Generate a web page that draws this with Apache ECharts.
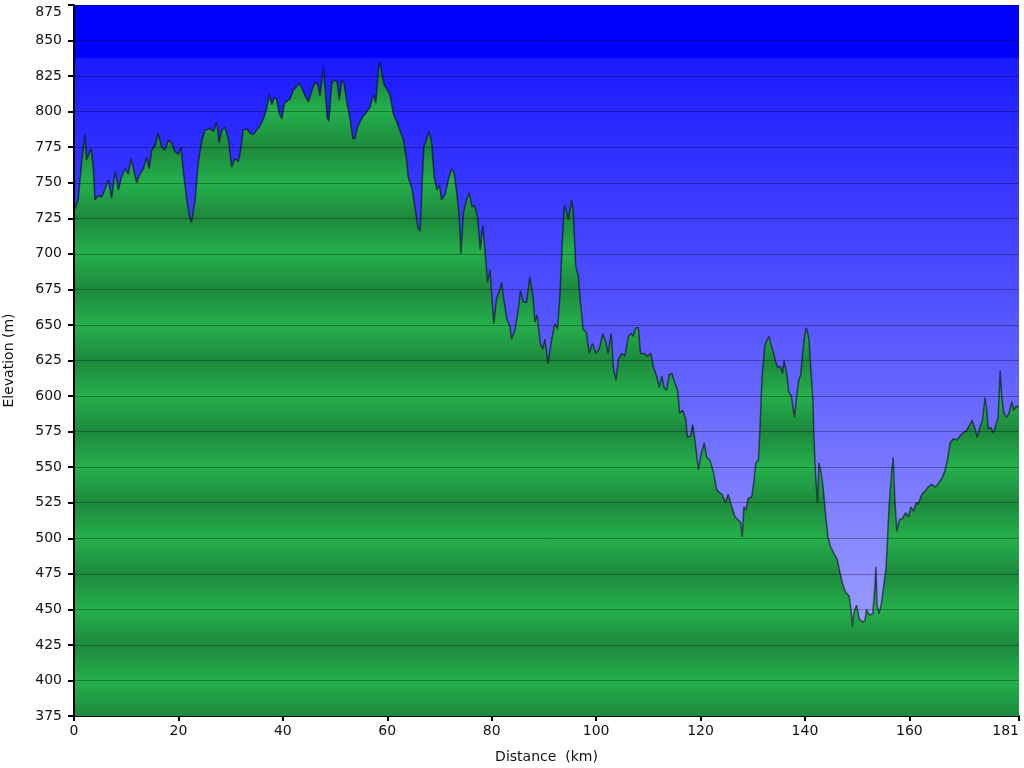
<!DOCTYPE html>
<html>
<head>
<meta charset="utf-8">
<script src="https://cdn.jsdelivr.net/npm/echarts@6/dist/echarts.min.js"></script>
<style>html,body{margin:0;padding:0;background:#fff}#c{width:1024px;height:768px}</style>
</head>
<body>
<div id="c"></div>
<script>
const distanceKm = [0,0.8,1.5,2.1,2.4,2.8,3.3,3.7,4.0,4.7,5.3,5.9,6.6,7.2,7.9,8.5,9.1,9.8,10.4,10.9,11.5,12.0,12.6,13.3,13.9,14.4,14.9,15.5,16.1,16.8,17.4,18.1,18.7,19.3,20.0,20.5,20.9,21.6,22.2,22.5,23.2,23.8,24.5,25.1,26.0,26.8,27.3,27.8,28.3,28.9,29.6,30.2,30.8,31.5,32.0,
32.4,33.1,33.7,34.3,35.0,35.6,36.3,36.9,37.4,37.9,38.4,38.8,39.3,39.8,40.3,40.7,41.4,42.0,42.7,43.2,43.8,44.4,44.9,45.5,46.2,46.7,47.1,47.8,48.1,48.5,48.8,49.4,50.0,50.4,50.8,51.3,51.7,52.2,52.9,53.4,53.8,54.3,54.8,55.4,56.1,56.7,57.3,57.8,58.3,58.6,58.9,59.4,59.9,60.5,61.2,61.8,62.4,63.1,63.7,
64.0,64.7,65.3,65.9,66.3,66.6,67.0,67.5,68.0,68.5,69.0,69.5,70.0,70.4,71.1,71.7,72.3,72.8,73.3,73.8,74.1,74.6,75.2,75.7,76.2,76.7,77.3,77.8,78.3,78.7,79.2,79.7,80.1,80.4,80.9,81.5,81.9,82.4,82.9,83.5,83.8,84.5,85.1,85.5,86.1,86.7,87.3,87.9,88.3,88.7,89.3,89.8,90.2,90.8,91.5,92.1,92.6,93.1,93.5,93.9,94.2,94.7,95.3,95.6,96.1,96.6,97.0,97.5,98.1,98.7,99.3,100.0,
100.6,101.3,101.9,102.3,102.9,103.3,103.8,104.3,104.9,105.5,106.2,106.7,107.1,107.6,108.1,108.5,109.2,109.8,110.5,111.0,111.6,112.1,112.6,113.0,113.5,114.0,114.5,115.1,115.6,116.0,116.6,117.2,117.5,118.1,118.5,118.9,119.6,120.1,120.7,121.2,121.8,122.5,123.1,123.7,124.1,124.4,124.8,125.3,126.0,126.6,127.2,127.7,128.0,128.3,128.7,129.1,129.8,130.2,130.6,131.1,131.4,131.8,132.3,132.7,133.1,133.5,134.0,134.4,134.8,135.3,135.7,136.0,136.5,136.9,137.4,137.7,138.0,138.4,138.8,139.2,139.5,140.0,140.3,140.8,141.1,141.5,141.7,142.0,142.4,142.7,143.1,143.5,144.0,144.4,144.9,145.6,146.2,146.7,147.2,147.8,148.5,148.8,149.1,149.4,149.9,150.4,151.1,151.5,151.8,152.3,153.0,153.4,153.6,153.8,154.2,154.6,155.0,155.5,155.8,156.1,156.6,156.9,157.2,157.6,158.1,158.7,159.3,159.8,160.3,160.8,161.3,161.7,162.4,163.0,163.6,164.3,164.9,165.5,166.2,166.8,167.3,167.8,168.4,169.1,169.7,170.3,171.0,171.6,172.0,172.6,173.0,173.5,174.0,174.5,174.8,175.1,175.6,176.1,176.6,177.0,177.4,177.7,178.1,178.6,179.1,179.6,180.0,180.5,181.0];

const elevationM = [730,738,766,784,766,770,774,761,738,741,740,745,752,739,758,745,754,760,756,767,758,750,756,760,768,760,773,776,785,775,773,780,778,772,770,775,759,738,725,722,738,764,780,787,788,786,793,778,787,789,780,761,767,765,775,
787,788,785,784,787,790,795,802,812,805,810,809,799,795,806,807,809,815,818,820,815,810,807,814,821,819,811,831,815,796,793,821,822,821,808,822,820,808,794,781,781,789,793,797,800,803,812,806,829,835,827,819,816,812,798,793,787,780,766,
754,746,733,718,716,743,775,780,786,778,754,745,748,738,742,752,760,757,743,726,700,729,738,743,733,734,726,703,720,703,680,689,666,651,668,674,680,666,654,649,640,647,661,674,666,666,684,670,652,657,637,633,640,623,640,651,647,672,707,734,731,724,738,731,691,684,666,647,645,630,637,630,
633,644,637,630,644,620,611,626,630,628,642,644,642,648,648,630,630,628,630,620,614,606,614,606,604,615,616,609,604,588,590,583,571,572,580,570,548,559,567,557,555,546,534,532,531,530,525,531,522,515,513,511,501,522,520,528,529,539,553,555,578,614,635,639,642,636,630,624,620,621,616,625,616,603,600,592,585,599,611,615,628,644,648,639,620,599,574,546,525,553,546,535,515,501,494,489,485,476,468,462,459,450,438,448,453,443,441,442,450,446,447,466,480,453,447,453,464,478,498,522,546,557,529,505,513,514,518,515,522,519,525,524,531,533,536,538,536,538,542,547,555,567,570,569,572,574,576,580,583,577,571,578,583,599,591,577,578,574,580,585,618,599,588,585,588,596,590,593,592];

const xTickValues = [0,20,40,60,80,100,120,140,160,181];
const yMin = 375, yMax = 875, yStep = 25;

const chart = echarts.init(document.getElementById('c'));
const gridTop = 5, gridBottom = 52, gridLeft = 74, gridRight = 5;
const plotTopPx = gridTop, plotBottomPx = 768 - gridBottom;

const greenStops = [];
for (let v = yMax; v >= yMin; v -= yStep) {
  const dark = ((v - yMin) / yStep) % 2 === 0;
  greenStops.push({offset: (yMax - v) / (yMax - yMin), color: dark ? '#1d893d' : '#25b04c'});
}

const bg = new echarts.graphic.LinearGradient(0, 0, 0, 1, [
  {offset: 0, color: '#0000ff'},
  {offset: 0.074, color: '#0000ff'},
  {offset: 0.0745, color: '#1a1aff'},
  {offset: 0.878, color: '#9c9cff'},
  {offset: 1, color: '#a2a2ff'}
]);

const font = 'DejaVu Sans';
chart.setOption({
  animation: false,
  backgroundColor: '#ffffff',
  grid: {left: gridLeft, right: gridRight, top: gridTop, bottom: gridBottom, containLabel: false, outerBoundsMode: 'none', show: true, backgroundColor: bg, borderWidth: 0},
  xAxis: {
    type: 'value', min: 0, max: 181, interval: 20,
    name: 'Distance  (km)', nameLocation: 'middle', nameGap: 34,
    nameTextStyle: {fontFamily: font, fontSize: 14, color: '#111'},
    axisLine: {lineStyle: {color: '#000', width: 2}},
    axisTick: {show: true, length: 5, lineStyle: {color: '#000', width: 2}, customValues: xTickValues},
    axisLabel: {fontFamily: font, fontSize: 14, color: '#111', margin: 8, customValues: xTickValues, alignMaxLabel: 'right'},
    splitLine: {show: false}
  },
  yAxis: {
    type: 'value', min: yMin, max: yMax, interval: yStep, z: 5,
    name: 'Elevation (m)', nameLocation: 'middle', nameGap: 58,
    nameTextStyle: {fontFamily: font, fontSize: 14, color: '#111'},
    axisLine: {show: true, lineStyle: {color: '#000', width: 2}},
    axisTick: {show: true, length: 6, lineStyle: {color: '#000', width: 2}},
    axisLabel: {fontFamily: font, fontSize: 14, color: '#111', margin: 12, verticalAlignMaxLabel: 'top'},
    splitLine: {show: true, lineStyle: {color: 'rgba(0,0,0,0.3)', width: 1}}
  },
  series: [{
    type: 'line',
    data: distanceKm.map((d, i) => [d, elevationM[i]]),
    symbol: 'none',
    lineStyle: {color: 'rgba(0,0,0,0.55)', width: 1.5},
    areaStyle: {
      origin: 'start', opacity: 1,
      color: {type: 'linear', x: 0, y: plotTopPx, x2: 0, y2: plotBottomPx, global: true, colorStops: greenStops}
    }
  }]
});
</script>
</body>
</html>
